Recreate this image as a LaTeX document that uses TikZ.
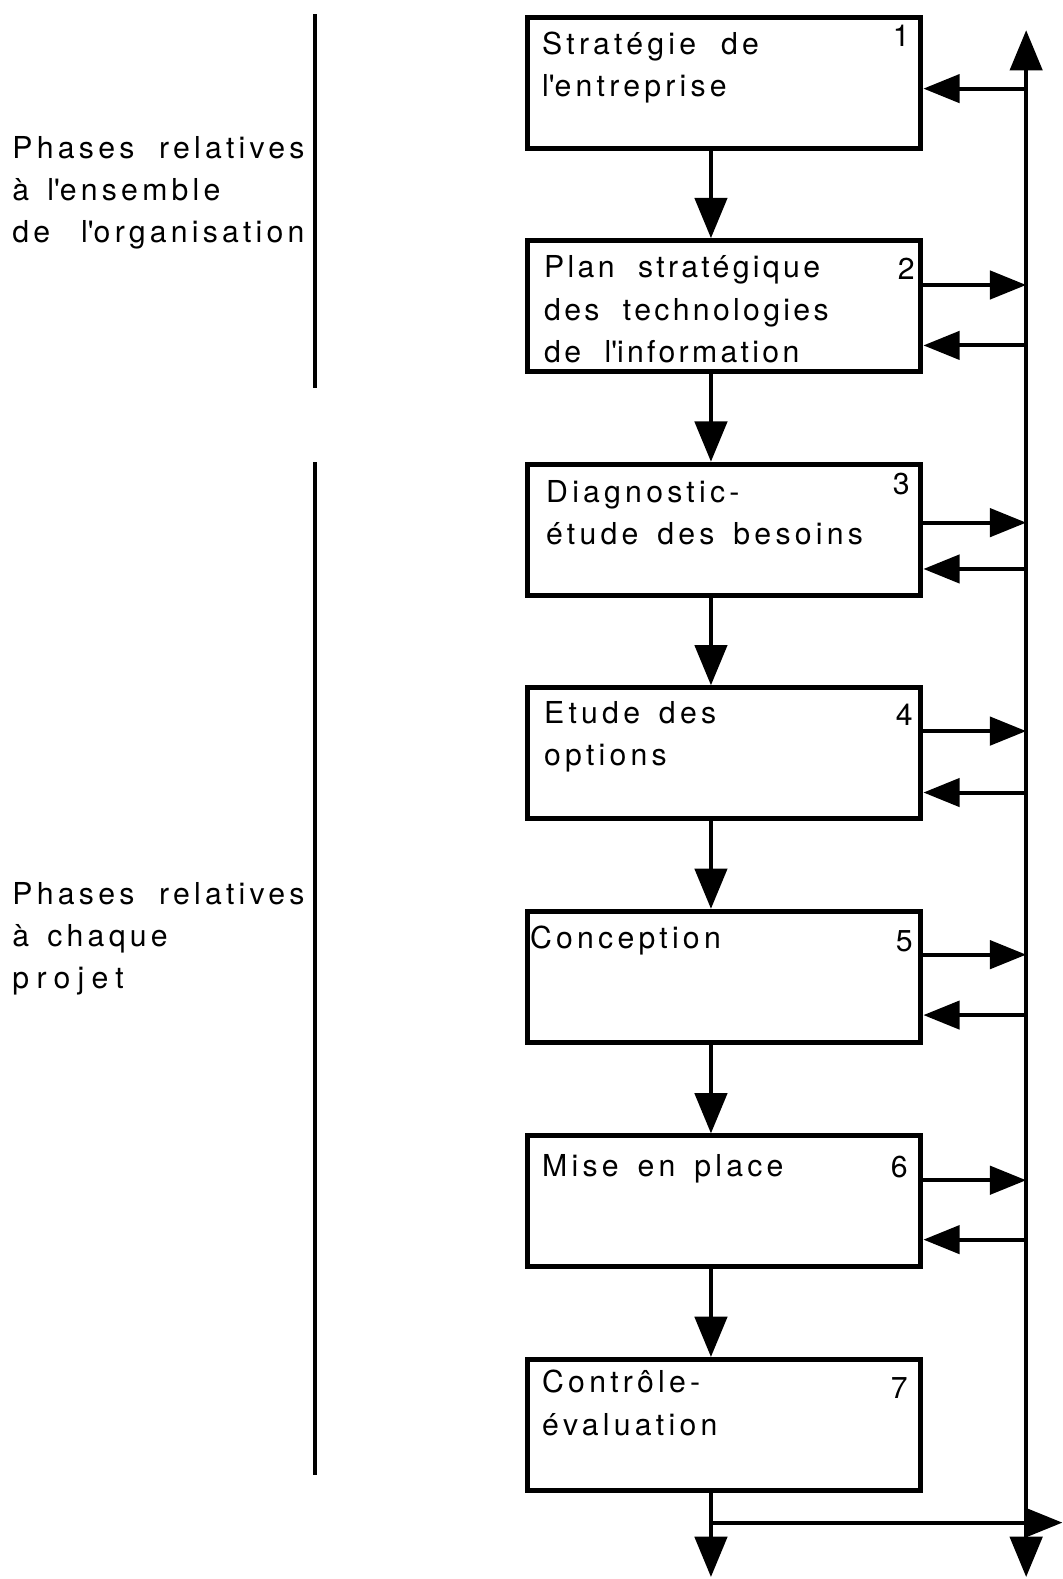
\documentclass[tikz,border=0pt]{standalone}
\usepackage{fontspec}
\setmainfont{TeX Gyre Heros}[LetterSpace=14,WordSpace=1.5]
\newfontfamily\sidefont{TeX Gyre Heros}[LetterSpace=14,WordSpace=2.6]
\newfontfamily\planfont{TeX Gyre Heros}[LetterSpace=11,WordSpace=2]
\usetikzlibrary{arrows.meta}
\newcommand{\apos}{\textquotesingle}
\tikzset{
  phase/.style={draw, line width=2.5pt, minimum width=195.5pt, minimum height=65pt, inner sep=0pt},
  conn/.style={line width=2pt},
  darr/.style={conn, -{Triangle[length=20pt,width=16pt]}},
  sarr/.style={conn, -{Triangle[length=18pt,width=14pt]}},
  busline/.style={conn, {Triangle[length=20pt,width=16pt]}-{Triangle[length=20pt,width=16pt]}},
  bar/.style={line width=2pt},
  txt/.style={anchor=base west, inner sep=0pt, align=left, font=\fontsize{15pt}{21pt}\selectfont},
  side/.style={anchor=base west, inner sep=0pt, text width=145pt, align=left, font=\sidefont\fontsize{15pt}{21pt}\selectfont},
  num/.style={anchor=base, inner sep=0pt, font=\fontsize{15pt}{21pt}\selectfont}
}
\begin{document}
\begin{tikzpicture}[x=0.5pt,y=-0.5pt]
\useasboundingbox (0,0) rectangle (1055,1568);
% boxes
\node[phase] (b1) at (719,82) {};
\node[phase] (b2) at (719,304) {};
\node[phase] (b3) at (719,526) {};
\node[phase] (b4) at (719,748) {};
\node[phase] (b5) at (719,970) {};
\node[phase] (b6) at (719,1193) {};
\node[phase] (b7) at (719,1415) {};
% texts (anchored at the baseline of the last line)
\node[txt] (t1) at (538,96) {Stratégie\hspace{3pt} de\\l\apos entreprise};
\node[txt, font=\planfont\fontsize{15pt}{21pt}\selectfont] (t2) at (540,360) {Plan stratégique\\des technologies\\de l\apos information};
\node[txt] (t3) at (542,541) {Diagnostic-\\étude des besoins};
\node[txt] (t4) at (540,760) {Etude des\\options};
\node[txt] (t5) at (526,942) {Conception};
\node[txt] (t6) at (538,1168) {Mise en place};
\node[txt] (t7) at (538,1425) {Contrôle-\\évaluation};
\node[num] (n1) at (895,46) {1};
\node[num] (n2) at (900,278) {2};
\node[num] (n3) at (895,491) {3};
\node[num] (n4) at (898,720) {4};
\node[num] (n5) at (898,945) {5};
\node[num] (n6) at (893,1169) {6};
\node[num] (n7) at (893,1389) {7};
% side labels
\node[side] (L1) at (12,157) {Phases\hfill relatives\\à\hspace{4pt} l\apos ensemble\\de\hfill l\apos organisation};
\node[side] (L2) at (12,898) {Phases\hfill relatives\\à\hspace{4pt} chaque\\{\addfontfeature{LetterSpace=24}projet}};
\draw[bar] (313,14) -- (313,385);
\draw[bar] (313,459) -- (313,1465);
% bus
\coordinate (bus) at (1019,0);
\coordinate (bustop) at (1019,30);
\coordinate (busbot) at (1019,1566);
\draw[busline] (busbot) -- (bustop);
% down arrows
\draw[darr] ([xshift=-6.5pt]b1.south) -- ([xshift=-6.5pt]b2.north);
\draw[darr] ([xshift=-6.5pt]b2.south) -- ([xshift=-6.5pt]b3.north);
\draw[darr] ([xshift=-6.5pt]b3.south) -- ([xshift=-6.5pt]b4.north);
\draw[darr] ([xshift=-6.5pt]b4.south) -- ([xshift=-6.5pt]b5.north);
\draw[darr] ([xshift=-6.5pt]b5.south) -- ([xshift=-6.5pt]b6.north);
\draw[darr] ([xshift=-6.5pt]b6.south) -- ([xshift=-6.5pt]b7.north);
% side arrows
\draw[sarr] (bus |- 0,88) -- (b1.east |- 0,88);
\draw[sarr] (b2.east |- 0,283) -- (bus |- 0,283);
\draw[sarr] (bus |- 0,343) -- (b2.east |- 0,343);
\draw[sarr] (b3.east |- 0,519) -- (bus |- 0,519);
\draw[sarr] (bus |- 0,565) -- (b3.east |- 0,565);
\draw[sarr] (b4.east |- 0,726) -- (bus |- 0,726);
\draw[sarr] (bus |- 0,787) -- (b4.east |- 0,787);
\draw[sarr] (b5.east |- 0,948) -- (bus |- 0,948);
\draw[sarr] (bus |- 0,1008) -- (b5.east |- 0,1008);
\draw[sarr] (b6.east |- 0,1172) -- (bus |- 0,1172);
\draw[sarr] (bus |- 0,1231) -- (b6.east |- 0,1231);
% bottom
\coordinate (out7) at ([xshift=-6.5pt]b7.south);
\coordinate (end7) at (706,1566);
\coordinate (junc) at (706,1512);
\coordinate (endr) at (1055,1512);
\draw[darr] (out7) -- (end7);
\draw[sarr] (junc) -- (endr);
\end{tikzpicture}
\end{document}
